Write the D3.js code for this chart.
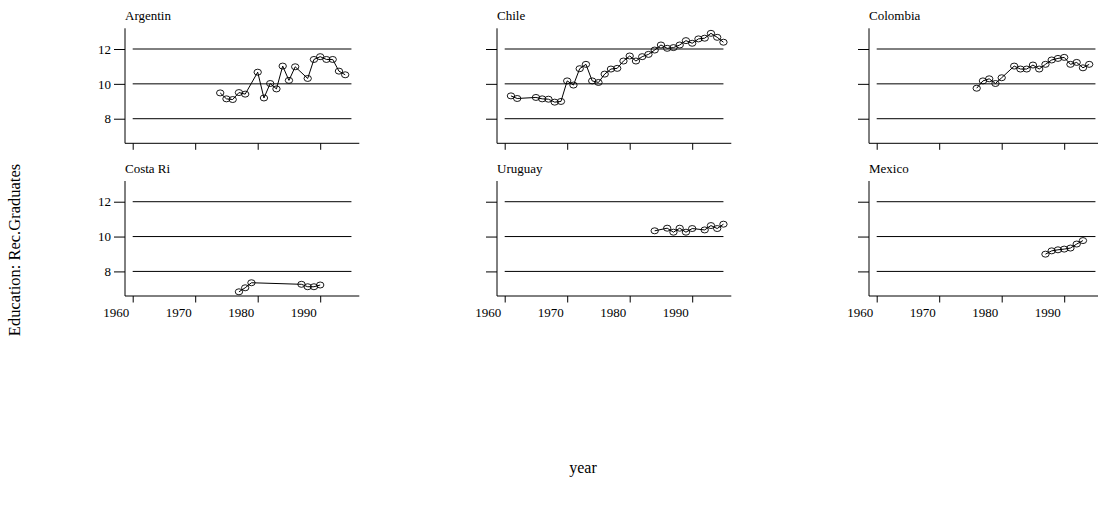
<!DOCTYPE html>
<html>
<head>
<meta charset="utf-8">
<script src="https://cdn.jsdelivr.net/npm/d3@7"></script>
<style>
  html, body { margin: 0; padding: 0; background: #fff; }
  svg { display: block; }
  text { font-family: "Liberation Serif", "Times New Roman", serif; fill: #000; }
</style>
</head>
<body>
<svg id="chart" width="1098" height="506"></svg>
<script>
// ---- Data ----
const countries = ["Argentin", "Chile", "Colombia", "Costa Ri", "Uruguay", "Mexico"];

const argentinaYears  = [1974,1975,1976,1977,1978,1980,1981,1982,1983,1984,1985,1986,1988,1989,1990,1991,1992,1993,1994];
const argentinaValues = [9.48,9.14,9.10,9.50,9.41,10.67,9.19,10.02,9.71,11.02,10.20,10.98,10.31,11.40,11.56,11.40,11.40,10.73,10.52];

const chileYears  = [1961,1962,1965,1966,1967,1968,1969,1970,1971,1972,1973,1974,1975,1976,1977,1978,1979,1980,1981,1982,1983,1984,1985,1986,1987,1988,1989,1990,1991,1992,1993,1994,1995];
const chileValues = [9.31,9.16,9.22,9.14,9.12,8.95,8.99,10.17,9.93,10.87,11.12,10.17,10.08,10.56,10.85,10.89,11.31,11.60,11.31,11.56,11.69,11.94,12.23,12.04,12.08,12.23,12.48,12.33,12.58,12.62,12.90,12.67,12.39];

const colombiaYears  = [1976,1977,1978,1979,1980,1982,1983,1984,1985,1986,1987,1988,1989,1990,1991,1992,1993,1994];
const colombiaValues = [9.75,10.17,10.29,10.02,10.35,11.02,10.85,10.85,11.08,10.85,11.12,11.37,11.46,11.52,11.12,11.23,10.92,11.12];

const costaRicaYears  = [1977,1978,1979,1987,1988,1989,1990];
const costaRicaValues = [6.83,7.06,7.35,7.26,7.12,7.12,7.22];

const uruguayYears  = [1984,1986,1987,1988,1989,1990,1992,1993,1994,1995];
const uruguayValues = [10.33,10.48,10.25,10.48,10.25,10.46,10.38,10.63,10.46,10.71];

const mexicoYears  = [1987,1988,1989,1990,1991,1992,1993];
const mexicoValues = [8.99,9.18,9.24,9.28,9.34,9.57,9.77];

const xTickLabels = [1960, 1970, 1980, 1990];
const yTickLabels = [8, 10, 12];
const gridYears = [1960, 1995];

const xTitle = "year";
const yTitle = "Education: Rec.Graduates";

// ---- Layout ----
const seriesYears  = [argentinaYears, chileYears, colombiaYears, costaRicaYears, uruguayYears, mexicoYears];
const seriesValues = [argentinaValues, chileValues, colombiaValues, costaRicaValues, uruguayValues, mexicoValues];

const svg = d3.select("#chart");
const panelW = 234.3, panelH = 115;
const colLeft = [125, 497, 869];
const rowTop = [28.3, 181];

const x = d3.scaleLinear().domain([1958.768, 1996.256]).range([0, panelW]);
const y = d3.scaleLinear().domain([6.589, 13.188]).range([panelH, 0]);

countries.forEach((name, i) => {
  const col = i % 3, row = Math.floor(i / 3);
  const g = svg.append("g").attr("transform", `translate(${colLeft[col]},${rowTop[row]})`);

  // horizontal reference lines
  g.selectAll("line.grid").data(yTickLabels).join("line")
    .attr("class", "grid")
    .attr("x1", x(gridYears[0])).attr("x2", x(gridYears[1]))
    .attr("y1", d => y(d)).attr("y2", d => y(d))
    .attr("stroke", "#000").attr("stroke-width", 1);

  // y axis
  const yAxis = d3.axisLeft(y).tickValues(yTickLabels).tickSize(11).tickSizeOuter(0)
    .tickFormat(d => col === 0 ? d : "");
  const ya = g.append("g").call(yAxis);
  ya.select(".domain").attr("d", `M0,0V${panelH}`).attr("stroke", "#000");
  ya.selectAll(".tick line").attr("stroke", "#000");
  ya.selectAll(".tick text")
    .attr("x", -14)
    .style("font-family", "'Liberation Serif', serif").style("font-size", "13px");

  // x axis
  const xAxis = d3.axisBottom(x).tickValues(xTickLabels).tickSize(6.5).tickSizeOuter(0)
    .tickFormat(d => row === 1 ? d : "");
  const xa = g.append("g").attr("transform", `translate(0,${panelH})`).call(xAxis);
  xa.select(".domain").attr("d", `M0,0H${panelW}`).attr("stroke", "#000");
  xa.selectAll(".tick line").attr("stroke", "#000");
  xa.selectAll(".tick text")
    .attr("text-anchor", "end").attr("x", -4).attr("y", 12).attr("dy", "0.71em")
    .style("font-family", "'Liberation Serif', serif").style("font-size", "13px");

  // title
  g.append("text").attr("x", 0).attr("y", -8.3)
    .style("font-size", "13px").text(name);

  // series
  const pts = seriesYears[i].map((yr, k) => [yr, seriesValues[i][k]]);
  g.append("path").datum(pts)
    .attr("fill", "none").attr("stroke", "#000").attr("stroke-width", 1)
    .attr("d", d3.line().x(d => x(d[0])).y(d => y(d[1])));
  g.selectAll("ellipse").data(pts).join("ellipse")
    .attr("cx", d => x(d[0])).attr("cy", d => y(d[1]))
    .attr("rx", 3.7).attr("ry", 3.0)
    .attr("fill", "none").attr("stroke", "#000").attr("stroke-width", 0.9);
});

// outer axis titles
svg.append("text").attr("x", 583).attr("y", 473)
  .attr("text-anchor", "middle").style("font-size", "16px").text(xTitle);
svg.append("text")
  .attr("transform", "translate(20,250) rotate(-90)")
  .attr("text-anchor", "middle").style("font-size", "16.5px").text(yTitle);
</script>
</body>
</html>
